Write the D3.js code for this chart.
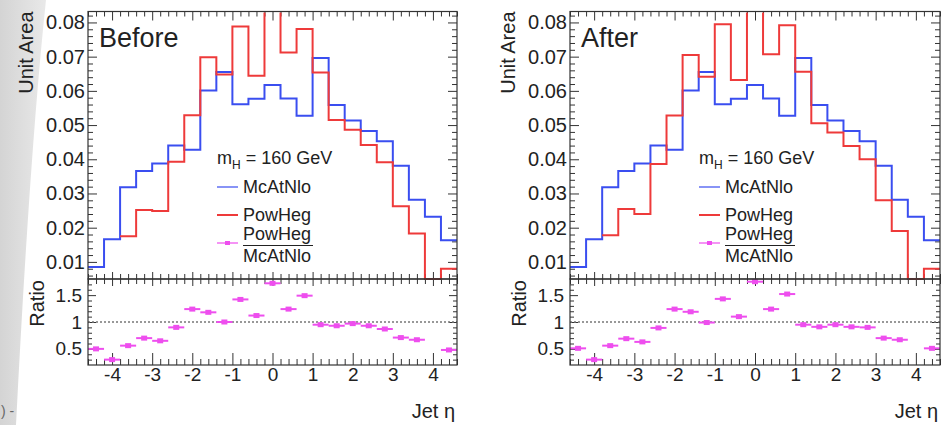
<!DOCTYPE html>
<html>
<head>
<meta charset="utf-8">
<script src="https://cdn.jsdelivr.net/npm/d3@7"></script>
<style>
body { margin: 0; background: #fff; }
svg text { font-family: "Liberation Sans", Arial, sans-serif; fill: #222; }
</style>
</head>
<body>
<div id="chart"></div>
<script>
"use strict";

// bin centres of the Jet eta histograms (bin width 0.4)
var etaCenters = [-4.4, -4.0, -3.6, -3.2, -2.8, -2.4, -2.0, -1.6, -1.2, -0.8, -0.4, 0.0,
	0.4, 0.8, 1.2, 1.6, 2.0, 2.4, 2.8, 3.2, 3.6, 4.0, 4.4];
var binHalf = 0.2;

// McAtNlo is the same in both panels
var mcatnlo = [0.0085, 0.0166, 0.0318, 0.0366, 0.0388, 0.0440, 0.0428, 0.0601, 0.0655, 0.0561,
	0.0577, 0.0617, 0.0578, 0.0527, 0.0696, 0.0559, 0.0513, 0.0483, 0.0453, 0.0381, 0.0282, 0.0232, 0.0163];

// PowHeg, null = not drawn (below the frame)
var powhegBefore = [null, null, 0.0175, 0.0252, 0.0249, 0.0393, 0.0529, 0.0698, 0.0648, 0.0788,
	0.0644, 0.1060, 0.0712, 0.0781, 0.0654, 0.0515, 0.0486, 0.0442, 0.0391, 0.0263, 0.0183, 0.0, 0.0080];
var powhegAfter = [null, null, 0.0178, 0.0255, 0.0240, 0.0386, 0.0528, 0.0705, 0.0641, 0.0795,
	0.0632, 0.1090, 0.0707, 0.0792, 0.0656, 0.0505, 0.0478, 0.0439, 0.0400, 0.0280, 0.0190, 0.0, 0.0080];

// PowHeg / McAtNlo
var ratioBefore = [0.50, 0.30, 0.56, 0.70, 0.65, 0.90, 1.24, 1.18, 1.00, 1.42, 1.12, 1.72,
	1.24, 1.49, 0.95, 0.93, 0.97, 0.93, 0.87, 0.71, 0.67, null, 0.48];
var ratioAfter = [0.51, 0.30, 0.56, 0.69, 0.63, 0.89, 1.24, 1.19, 0.99, 1.43, 1.10, 1.75,
	1.24, 1.52, 0.95, 0.91, 0.95, 0.91, 0.90, 0.70, 0.67, null, 0.51];

var xTicks = [-4, -3, -2, -1, 0, 1, 2, 3, 4];
var areaTicks = [0.01, 0.02, 0.03, 0.04, 0.05, 0.06, 0.07, 0.08];
var ratioTicks = [0.5, 1, 1.5];

var panels = [
	{title: "Before", x0: 88, x1: 457, powheg: powhegBefore, ratio: ratioBefore},
	{title: "After", x0: 570, x1: 940, powheg: powhegAfter, ratio: ratioAfter}
];

var colBlue = "#3a4ef0", colRed = "#ee3a3a", colMag = "#ee4eee", colAxis = "#333";

var W = 947, H = 425;
var topY = 11.5, midY = 279, botY = 365;
var areaMin = 0.005, areaMax = 0.0832;
var ratioMin = 0.2, ratioMax = 1.8;

var svg = d3.select("#chart").append("svg").attr("width", W).attr("height", H);

// grey slide background on the far left
var defs = svg.append("defs");
var grad = defs.append("linearGradient").attr("id", "slidebg").attr("x1", 0).attr("x2", 1).attr("y1", 0).attr("y2", 0);
grad.append("stop").attr("offset", "0%").attr("stop-color", "#d4d4d4");
grad.append("stop").attr("offset", "100%").attr("stop-color", "#e9e9e9");
svg.append("path")
	.attr("d", "M0,0 L46,0 Q30,150 16,425 L0,425 Z")
	.attr("fill", "url(#slidebg)");
svg.append("text").attr("x", 1).attr("y", 416).style("font-size", "14px").style("fill", "#666").text(") -");

function styleAxis(g, fontSize) {
	g.select(".domain").remove();
	g.selectAll("line").attr("stroke", colAxis).attr("stroke-width", 1);
	g.selectAll("text").style("font-size", fontSize + "px").style("font-family", "'Liberation Sans', Arial, sans-serif").attr("fill", "#222");
}

function stepPoints(vals) {
	var pts = [];
	vals.forEach(function(v, i) {
		pts.push({x: etaCenters[i] - binHalf, v: v});
		pts.push({x: etaCenters[i] + binHalf, v: v});
	});
	return pts;
}

// plain hyphen minus like the original
function plainNum(d) { return String(d); }

panels.forEach(function(p, pi) {
	var x = d3.scaleLinear().domain([-4.6, 4.6]).range([p.x0, p.x1]);
	var y = d3.scaleLinear().domain([areaMin, areaMax]).range([midY, topY]);
	var yr = d3.scaleLinear().domain([ratioMin, ratioMax]).range([botY, midY]);

	var g = svg.append("g");
	var minorX = d3.range(-4.6, 4.61, 0.2).filter(function(d) { return Math.abs(d - Math.round(d)) > 0.01; });
	var minorA = d3.range(0.006, 0.0831, 0.002).filter(function(d) { return Math.abs(d * 100 - Math.round(d * 100)) > 0.01; });
	var minorR = d3.range(0.3, 1.75, 0.1).filter(function(d) { return Math.abs(d * 2 - Math.round(d * 2)) > 0.01; });

	// ---- upper pad axes ----
	g.append("g").attr("transform", "translate(" + p.x0 + ",0)")
		.call(d3.axisLeft(y).tickValues(areaTicks).tickSize(-9).tickPadding(3).tickFormat(d3.format(".2f")))
		.call(styleAxis, 20);
	g.append("g").attr("transform", "translate(" + p.x0 + ",0)")
		.call(d3.axisLeft(y).tickValues(minorA).tickSize(-5).tickFormat(""))
		.call(styleAxis, 20);
	g.append("g").attr("transform", "translate(" + p.x1 + ",0)")
		.call(d3.axisRight(y).tickValues(areaTicks).tickSize(-9).tickFormat(""))
		.call(styleAxis, 20);
	g.append("g").attr("transform", "translate(" + p.x1 + ",0)")
		.call(d3.axisRight(y).tickValues(minorA).tickSize(-5).tickFormat(""))
		.call(styleAxis, 20);
	g.append("g").attr("transform", "translate(0," + topY + ")")
		.call(d3.axisTop(x).tickValues(xTicks).tickSize(-9).tickFormat(""))
		.call(styleAxis, 18);
	g.append("g").attr("transform", "translate(0," + topY + ")")
		.call(d3.axisTop(x).tickValues(minorX).tickSize(-5).tickFormat(""))
		.call(styleAxis, 18);
	g.append("g").attr("transform", "translate(0," + midY + ")")
		.call(d3.axisBottom(x).tickValues(xTicks).tickSize(-7).tickFormat(""))
		.call(styleAxis, 18);
	g.append("g").attr("transform", "translate(0," + midY + ")")
		.call(d3.axisBottom(x).tickValues(minorX).tickSize(-5).tickFormat(""))
		.call(styleAxis, 18);

	// ---- ratio pad axes ----
	g.append("g").attr("transform", "translate(0," + midY + ")")
		.call(d3.axisTop(x).tickValues(xTicks).tickSize(-7).tickFormat(""))
		.call(styleAxis, 18);
	g.append("g").attr("transform", "translate(0," + midY + ")")
		.call(d3.axisTop(x).tickValues(minorX).tickSize(-5).tickFormat(""))
		.call(styleAxis, 18);
	g.append("g").attr("transform", "translate(0," + botY + ")")
		.call(d3.axisBottom(x).tickValues(xTicks).tickSize(-12).tickPadding(2).tickFormat(plainNum))
		.call(styleAxis, 19);
	g.append("g").attr("transform", "translate(0," + botY + ")")
		.call(d3.axisBottom(x).tickValues(minorX).tickSize(-6).tickFormat(""))
		.call(styleAxis, 19);
	g.append("g").attr("transform", "translate(" + p.x0 + ",0)")
		.call(d3.axisLeft(yr).tickValues(ratioTicks).tickSize(-8).tickPadding(6).tickFormat(plainNum))
		.call(styleAxis, 19);
	g.append("g").attr("transform", "translate(" + p.x0 + ",0)")
		.call(d3.axisLeft(yr).tickValues(minorR).tickSize(-4).tickFormat(""))
		.call(styleAxis, 19);
	g.append("g").attr("transform", "translate(" + p.x1 + ",0)")
		.call(d3.axisRight(yr).tickValues(ratioTicks).tickSize(-8).tickFormat(""))
		.call(styleAxis, 19);
	g.append("g").attr("transform", "translate(" + p.x1 + ",0)")
		.call(d3.axisRight(yr).tickValues(minorR).tickSize(-4).tickFormat(""))
		.call(styleAxis, 19);

	// ---- histograms ----
	var clipId = "clip" + pi;
	defs.append("clipPath").attr("id", clipId).append("rect")
		.attr("x", p.x0).attr("y", topY + 1).attr("width", p.x1 - p.x0).attr("height", midY - topY + 0.5);

	var line = d3.line()
		.defined(function(d) { return d.v !== null; })
		.x(function(d) { return x(d.x); })
		.y(function(d) { return y(Math.max(d.v, areaMin)); });

	var hg = g.append("g").attr("clip-path", "url(#" + clipId + ")");
	hg.append("path").attr("d", line(stepPoints(mcatnlo)))
		.attr("fill", "none").attr("stroke", colBlue).attr("stroke-width", 2);
	hg.append("path").attr("d", line(stepPoints(p.powheg)))
		.attr("fill", "none").attr("stroke", colRed).attr("stroke-width", 2);

	// ---- ratio ----
	g.append("line")
		.attr("x1", p.x0).attr("x2", p.x1).attr("y1", yr(1)).attr("y2", yr(1))
		.attr("stroke", "#777").attr("stroke-width", 1.5).attr("stroke-dasharray", "2,2");

	var pts = g.selectAll(".rpt").data(p.ratio.map(function(r, i) { return {c: etaCenters[i], r: r}; })
		.filter(function(d) { return d.r !== null; }))
		.enter().append("g").attr("class", "rpt");
	pts.append("line")
		.attr("x1", function(d) { return x(d.c - binHalf); })
		.attr("x2", function(d) { return x(d.c + binHalf); })
		.attr("y1", function(d) { return yr(d.r); })
		.attr("y2", function(d) { return yr(d.r); })
		.attr("stroke", colMag).attr("stroke-width", 2);
	pts.append("rect")
		.attr("x", function(d) { return x(d.c) - 3; })
		.attr("y", function(d) { return yr(d.r) - 2.5; })
		.attr("width", 6).attr("height", 5)
		.attr("fill", colMag);

	// frames
	g.append("rect").attr("x", p.x0).attr("y", topY).attr("width", p.x1 - p.x0).attr("height", midY - topY)
		.attr("fill", "none").attr("stroke", colAxis).attr("stroke-width", 1.2);
	g.append("rect").attr("x", p.x0).attr("y", midY).attr("width", p.x1 - p.x0).attr("height", botY - midY)
		.attr("fill", "none").attr("stroke", colAxis).attr("stroke-width", 1.2);

	// ---- texts ----
	g.append("text").attr("x", p.x0 + 11).attr("y", 47).style("font-size", "27px").text(p.title);

	g.append("text").attr("transform", "translate(" + (p.x0 - 55) + "," + topY + ") rotate(-90)")
		.attr("text-anchor", "end").style("font-size", "20px").text("Unit Area");
	g.append("text").attr("transform", "translate(" + (p.x0 - 44) + "," + (midY + 1) + ") rotate(-90)")
		.attr("text-anchor", "end").style("font-size", "20px").text("Ratio");
	g.append("text").attr("x", p.x1 - 2).attr("y", 418).attr("text-anchor", "end")
		.style("font-size", "20px").text("Jet \u03b7");

	// legend
	var lx = p.x0 + 129;
	var mh = g.append("text").attr("x", lx).attr("y", 164).style("font-size", "18px");
	mh.append("tspan").text("m");
	mh.append("tspan").attr("dy", 5).style("font-size", "12px").text("H");
	mh.append("tspan").attr("dy", -5).text(" = 160 GeV");

	g.append("line").attr("x1", lx).attr("x2", lx + 21).attr("y1", 187).attr("y2", 187)
		.attr("stroke", colBlue).attr("stroke-width", 1.2);
	g.append("text").attr("x", lx + 26).attr("y", 193).style("font-size", "18px").text("McAtNlo");

	g.append("line").attr("x1", lx).attr("x2", lx + 21).attr("y1", 215).attr("y2", 215)
		.attr("stroke", colRed).attr("stroke-width", 2);
	g.append("text").attr("x", lx + 26).attr("y", 221).style("font-size", "18px").text("PowHeg");

	g.append("line").attr("x1", lx).attr("x2", lx + 21).attr("y1", 243).attr("y2", 243)
		.attr("stroke", colMag).attr("stroke-width", 1.2);
	g.append("rect").attr("x", lx + 8).attr("y", 241).attr("width", 5).attr("height", 4).attr("fill", colMag);
	g.append("text").attr("x", lx + 26).attr("y", 240).style("font-size", "18px").text("PowHeg");
	g.append("line").attr("x1", lx + 26).attr("x2", lx + 96).attr("y1", 245.5).attr("y2", 245.5)
		.attr("stroke", "#222").attr("stroke-width", 1.2);
	g.append("text").attr("x", lx + 26).attr("y", 262).style("font-size", "18px").text("McAtNlo");
});
</script>
</body>
</html>
